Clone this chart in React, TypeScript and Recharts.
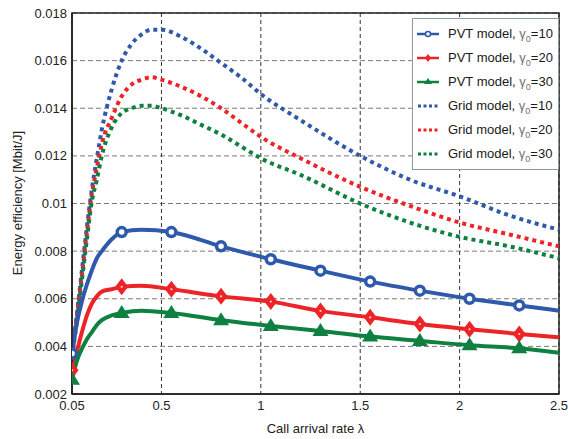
import React from "react"
import { LineChart, Line, XAxis, YAxis, CartesianGrid, Legend, ReferenceArea } from "recharts"

// PVT model curves (solid with markers)
const LAMBDA_PVT = [0.05, 0.075, 0.1, 0.125, 0.15, 0.175, 0.2, 0.25, 0.3, 0.4, 0.55, 0.8, 1.05, 1.3, 1.55, 1.8, 2.05, 2.3, 2.5]
const PVT_10 = [0.0037, 0.005, 0.0059, 0.0066, 0.0072, 0.0077, 0.008, 0.0085, 0.0088, 0.0089, 0.0088, 0.0082, 0.00766, 0.00718, 0.00672, 0.00634, 0.006, 0.00572, 0.0055]
const PVT_20 = [0.003, 0.0038, 0.0046, 0.0053, 0.0058, 0.0061, 0.0063, 0.0064, 0.0065, 0.00655, 0.0064, 0.0061, 0.00588, 0.00549, 0.00522, 0.00494, 0.00472, 0.00452, 0.00438]
const PVT_30 = [0.0026, 0.0034, 0.0039, 0.0043, 0.0046, 0.0049, 0.0051, 0.0053, 0.0054, 0.0055, 0.0054, 0.0051, 0.00486, 0.00465, 0.00441, 0.00423, 0.00405, 0.00392, 0.00373]

// Grid model curves (dotted)
const LAMBDA_GRID = [0.05, 0.075, 0.1, 0.125, 0.15, 0.175, 0.2, 0.25, 0.3, 0.35, 0.4, 0.45, 0.5, 0.6, 0.7, 0.8, 0.9, 1.0, 1.2, 1.5, 1.75, 2.0, 2.25, 2.5]
const GRID_10 = [0.0037, 0.0054, 0.0072, 0.009, 0.0106, 0.0119, 0.0131, 0.0148, 0.016, 0.0167, 0.0171, 0.0173, 0.0173, 0.017, 0.0165, 0.0159, 0.0153, 0.0146, 0.0135, 0.012, 0.011, 0.0103, 0.0095, 0.0089]
const GRID_20 = [0.0036, 0.0053, 0.007, 0.0088, 0.0104, 0.0115, 0.0125, 0.0136, 0.0145, 0.015, 0.0152, 0.0153, 0.0152, 0.0149, 0.0145, 0.014, 0.0134, 0.0128, 0.0119, 0.0107, 0.0099, 0.0092, 0.0087, 0.0082]
const GRID_30 = [0.0035, 0.0051, 0.0068, 0.0085, 0.0101, 0.011, 0.012, 0.0132, 0.0138, 0.014, 0.0141, 0.0141, 0.014, 0.0137, 0.0133, 0.0129, 0.0124, 0.0119, 0.0112, 0.01, 0.0092, 0.0086, 0.0082, 0.0077]

const MARKER_LAMBDA = [0.05, 0.3, 0.55, 0.8, 1.05, 1.3, 1.55, 1.8, 2.05, 2.3]

const X_TICKS = [0.05, 0.5, 1, 1.5, 2, 2.5]
const Y_TICKS = [0.002, 0.004, 0.006, 0.008, 0.01, 0.012, 0.014, 0.016, 0.018]

const GAMMAS = ["10", "20", "30"]
const BLUE = "#2F5AAB"
const RED = "#EC2428"
const GREEN = "#0E8040"
const COLORS = [BLUE, RED, GREEN]
const FONT = "'Liberation Sans', Arial, sans-serif"

const toPoints = (xs: number[], ys: number[]) => xs.map((x, i) => ({ x, y: ys[i] }))

const isMarker = (x: number) => MARKER_LAMBDA.some((m) => Math.abs(m - x) < 1e-6)

function Marker({ shape, color, cx, cy }: { shape: string; color: string; cx: number; cy: number }) {
  if (shape === "circle") {
    return <circle cx={cx} cy={cy} r={4.5} fill="#fff" stroke={color} strokeWidth={3.5} />
  }
  if (shape === "diamond") {
    return (
      <g>
        <polygon points={`${cx},${cy - 8.5} ${cx + 6.5},${cy} ${cx},${cy + 8.5} ${cx - 6.5},${cy}`} fill={color} />
        <circle cx={cx} cy={cy} r={1.1} fill="#fbd0d0" />
      </g>
    )
  }
  return <polygon points={`${cx},${cy - 8} ${cx + 8},${cy + 5} ${cx - 8},${cy + 5}`} fill={color} />
}

const makeDot = (shape: string, color: string) => (props: any) => {
  const { cx, cy, payload, index } = props
  if (!payload || !isMarker(payload.x)) return <g key={`d-${shape}-${index}`} />
  return (
    <g key={`d-${shape}-${index}`}>
      <Marker shape={shape} color={color} cx={cx} cy={cy} />
    </g>
  )
}

const SHAPES = ["circle", "diamond", "triangle"]

function LegendBox() {
  const rows = [
    ...GAMMAS.map((g, i) => ({ label: "PVT model, ", g, color: COLORS[i], shape: SHAPES[i], dotted: false })),
    ...GAMMAS.map((g, i) => ({ label: "Grid model, ", g, color: COLORS[i], shape: "", dotted: true })),
  ]
  return (
    <div
      style={{
        border: "1px solid #8c9c9c",
        background: "#fff",
        padding: "3px 0 3px 4px",
        fontFamily: FONT,
        fontSize: 13,
        lineHeight: "24px",
        color: "#1a1a1a",
        width: 141,
      }}
    >
      {rows.map((r, i) => (
        <div key={i} style={{ display: "flex", alignItems: "center", height: 24, whiteSpace: "nowrap" }}>
          <svg width={22} height={14} style={{ marginRight: 9, flexShrink: 0 }}>
            {r.dotted ? (
              <line x1={1} y1={7} x2={21} y2={7} stroke={r.color} strokeWidth={3} strokeDasharray="3 2.5" />
            ) : (
              <>
                <line x1={0} y1={7} x2={22} y2={7} stroke={r.color} strokeWidth={2.5} />
                {r.shape === "circle" && <circle cx={11} cy={7} r={2.5} fill="#fff" stroke={r.color} strokeWidth={1.5} />}
                {r.shape === "diamond" && <polygon points="11,3 14,7 11,11 8,7" fill={r.color} />}
                {r.shape === "triangle" && <polygon points="11,3 15,9 7,9" fill={r.color} />}
              </>
            )}
          </svg>
          <span>
            {r.label}
            <span style={{ color: "#707070" }}>
              γ<span style={{ fontSize: 9, position: "relative", top: 4 }}>0</span>
            </span>
            ={r.g}
          </span>
        </div>
      ))}
    </div>
  )
}

export default function App() {
  const pvt = [PVT_10, PVT_20, PVT_30]
  const grid = [GRID_10, GRID_20, GRID_30]
  return (
    <div style={{ position: "absolute", left: 0, top: 0, background: "#fff" }}>
      <LineChart width={568} height={439} margin={{ top: 13, right: 9, left: 0, bottom: 0 }}>
        <CartesianGrid vertical={false} stroke="#7a7a7a" strokeDasharray="5 3" strokeWidth={1} />
        <CartesianGrid horizontal={false} stroke="#333" strokeDasharray="4 3" strokeWidth={1} />
        <XAxis
          dataKey="x"
          type="number"
          domain={[0.05, 2.5]}
          ticks={X_TICKS}
          allowDataOverflow
          height={45}
          tickLine={false}
          tickSize={6}
          tickMargin={1}
          stroke="#222"
          strokeWidth={1.5}
          tick={{ fill: "#222", fontSize: 13, fontFamily: FONT }}
          label={{ value: "Call arrival rate λ", position: "insideBottom", offset: 6, fill: "#222", fontSize: 13, fontFamily: FONT }}
        />
        <YAxis
          type="number"
          domain={[0.002, 0.018]}
          ticks={Y_TICKS}
          allowDataOverflow
          width={72}
          tickLine={false}
          tickSize={4}
          tickMargin={1}
          stroke="#222"
          strokeWidth={1.5}
          tickFormatter={(v: number) => String(v)}
          tick={{ fill: "#222", fontSize: 13, fontFamily: FONT }}
          label={{
            content: () => (
              <text
                transform="translate(22,203) rotate(-90)"
                textAnchor="middle"
                fill="#222"
                fontSize={13}
                fontFamily={FONT}
              >
                Energy efficiency [Mbit/J]
              </text>
            ),
          }}
        />
        <ReferenceArea x1={0.05} x2={2.5} y1={0.002} y2={0.018} fill="none" stroke="#222" strokeWidth={1.5} ifOverflow="visible" />
        {grid.map((ys, i) => (
          <Line
            key={`grid-${i}`}
            data={toPoints(LAMBDA_GRID, ys)}
            dataKey="y"
            type="monotone"
            stroke={COLORS[i]}
            strokeWidth={4}
            strokeDasharray="4 4"
            dot={false}
            activeDot={false}
            isAnimationActive={false}
          />
        ))}
        {pvt.map((ys, i) => (
          <Line
            key={`pvt-${i}`}
            data={toPoints(LAMBDA_PVT, ys)}
            dataKey="y"
            type="monotone"
            stroke={COLORS[i]}
            strokeWidth={4}
            dot={makeDot(SHAPES[i], COLORS[i])}
            activeDot={false}
            isAnimationActive={false}
          />
        ))}
        <Legend
          layout="vertical"
          align="center"
          verticalAlign="middle"
          wrapperStyle={{ left: 412, top: 18, width: 146 }}
          content={() => <LegendBox />}
        />
      </LineChart>
    </div>
  )
}
